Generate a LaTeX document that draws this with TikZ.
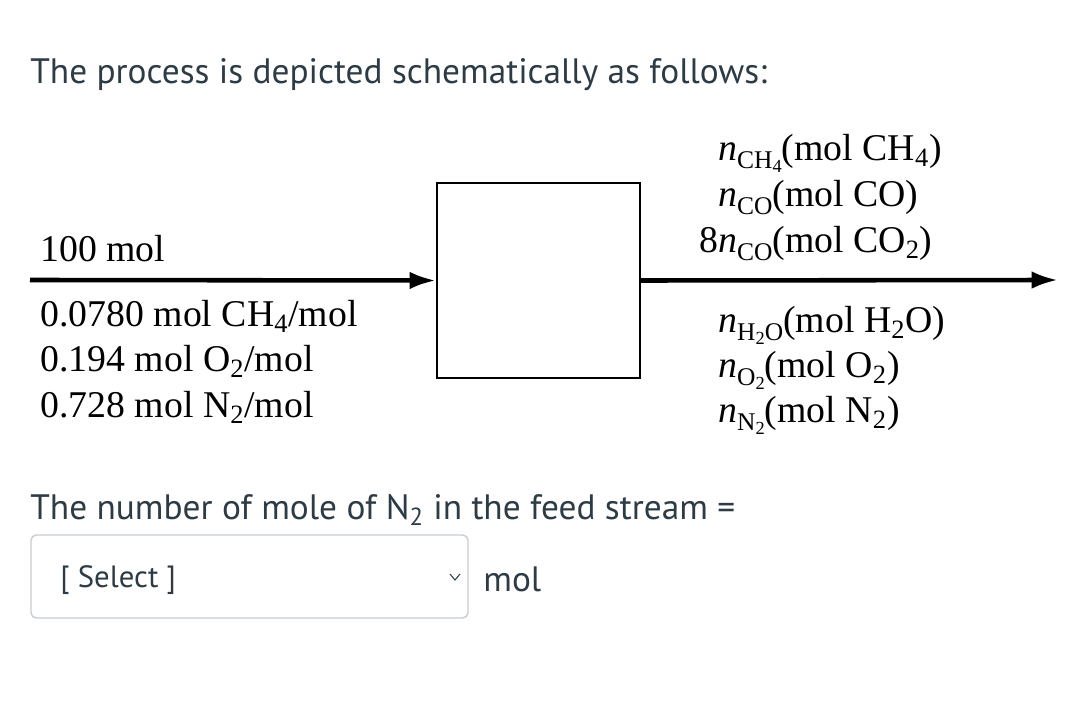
\documentclass[tikz,border=0pt]{standalone}
\usepackage{fontspec}
\setmainfont{Liberation Serif}
\newfontfamily\uifont{PT Sans}
\usetikzlibrary{arrows.meta}
\definecolor{uitext}{HTML}{2D3B45}
\definecolor{uiborder}{HTML}{C7CDD1}
\newcommand{\nsub}[1]{\textit{n}\raisebox{-0.45ex}{\fontsize{14.5}{14.5}\selectfont #1}}
\newcommand{\ssub}[1]{\raisebox{-0.35ex}{\fontsize{10.5}{10.5}\selectfont #1}}

\begin{document}
\begin{tikzpicture}[
  x=0.02cm, y=-0.02cm,
  txt/.style={font=\fontsize{21.5}{24}\selectfont, inner sep=0pt, anchor=base west},
  ui/.style={font=\uifont\fontsize{20.1}{24}\selectfont, text=uitext, inner sep=0pt, anchor=base west},
  unit/.style={draw, line width=1.2pt, minimum width=203*0.02cm, minimum height=195*0.02cm, inner sep=0pt},
  stream/.style={line width=2.6pt, -{Latex[length=15pt, width=10pt]}},
  selbox/.style={draw=uiborder, line width=0.8pt, rounded corners=3pt, minimum width=437*0.02cm,
    minimum height=83*0.02cm, inner sep=0pt}
]
\useasboundingbox (0,0) rectangle (1080,716);

\node[ui] (head) at (30,84) {The process is depicted schematically as follows:};

% unit and streams
\node[unit] (mix) at (538.5,280.5) {};
\coordinate (feed) at (30,280);
\coordinate (prod) at (1058,280);
\draw[stream] (feed) -- (mix.west);
\draw[stream] (mix.east) -- (prod);

% feed labels
\node[txt] (ftot) at (40,262) {100 mol};
\node[txt] (fch4) at (40,327) {0.0780 mol CH\textsubscript{4}/mol};
\node[txt] (fo2) at (40,372) {0.194 mol O\textsubscript{2}/mol};
\node[txt] (fn2) at (40,418) {0.728 mol N\textsubscript{2}/mol};

% product labels
\node[txt] (pch4) at (718,161) {\nsub{CH\ssub{4}}(mol CH\textsubscript{4})};
\node[txt] (pco) at (718,207) {\nsub{CO}(mol CO)};
\node[txt] (pco2) at (718,253) {\llap{8}\nsub{CO}(mol CO\textsubscript{2})};
\node[txt] (ph2o) at (718,333) {\nsub{H\ssub{2}O}(mol H\textsubscript{2}O)};
\node[txt] (po2) at (718,378) {\nsub{O\ssub{2}}(mol O\textsubscript{2})};
\node[txt] (pn2) at (718,423) {\nsub{N\ssub{2}}(mol N\textsubscript{2})};

% question
\node[ui] (ques) at (30,520) {The number of mole of N\textsubscript{2} in the feed stream =};
\node[selbox] (sel) at (249.5,576.5) {};
\node[ui, font=\uifont\fontsize{17.5}{22}\selectfont] (seltxt) at (60,588) {[ Select ]};
\draw[uitext, line width=0.6pt] (450,574) -- (455,580) -- (460,574);
\node[ui] (unitmol) at (483,592) {mol};
\end{tikzpicture}
\end{document}
